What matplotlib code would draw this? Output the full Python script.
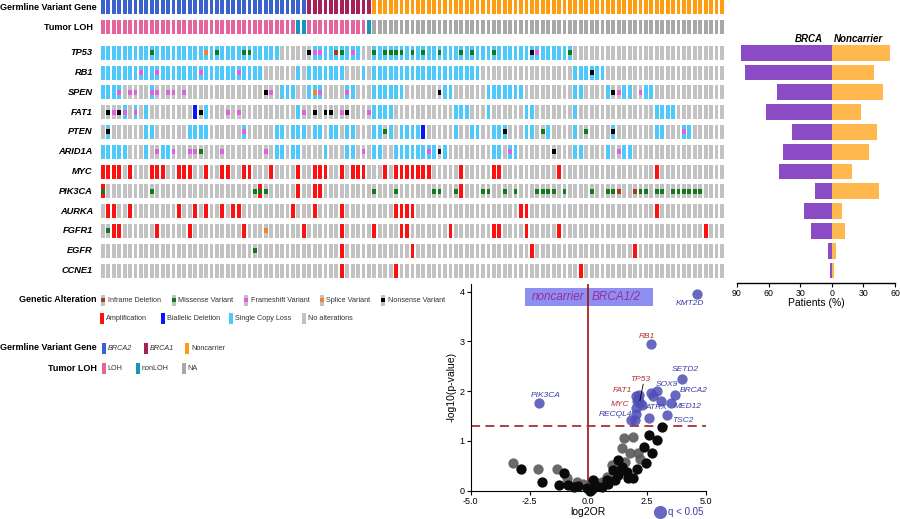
import numpy as np
import matplotlib.pyplot as plt
from matplotlib.patches import Rectangle

plt.rcParams['font.family'] = ['Liberation Sans', 'DejaVu Sans']

W, H = 900, 519

genes = ['TP53', 'RB1', 'SPEN', 'FAT1', 'PTEN', 'ARID1A', 'MYC', 'PIK3CA',
         'AURKA', 'FGFR1', 'EGFR', 'CCNE1']

# one character per patient (115), written in groups of ten
germline = ("2222222222 2222222222 2222222222 2222222211 1111111111 NNNNNNNNNN "
            "NNNNNNNNNN NNNNNNNNNN NNNNNNNNNN NNNNNNNNNN NNNNNNNNNN NNNNN")
tumor_loh = ("LLLLLLLLLL LLLLLLLLLL LLLLLLLLLL LLLLLLnnLL LLLLLLLLLn ---------- "
             "---------- ---------- ---------- ---------- ---------- -----")

# copy number: S single copy loss, A amplification, D biallelic deletion
cna_rows = [
    "SSSSSSSSSS SSSSSSSSSS SSSSSSSSSS SSS......S SSSSSSSS.. SSSSSSSSSS SSSSSSSSSS SSSSSSSSSS SSSSSSS... .......... .......... .....",
    "SSSSSSSSSS SSSSSSSSSS SSSSSSSSSS ......S.SS SSSSS...S. SSSSSSSSSS SSSSSSSSSS .......... .......SSS SSS....... .......... .....",
    "SSSS.....S .......... .......... ...SSS..SS S....SS... SSSSSS.... ...SS..... .SSSSSSS.. .......SS. ...S..SS.. SS........ .....",
    "....S.S.S. .......D.S .......... ......S... .......... SSSS...... .....SSS.. .S......SS .......S.. .......... ..SSSS.... .....",
    ".S......SS ......SSSS ......S... ..SS.SSS.S S.SS.SS... SS.S.SSSSD .....S..SS ..SSS...SS ..S....S.. ....S..... ..SS...SS. .....",
    "SSSSS...S. .SS....... .......... ..SS.SS... .S...SS... SS..SSSSSS SS.S...... ..SS.SS... .......SS. ...S..SS.. .......... .....",
    "AAAA.A...A AA..AAA..A ..AA..AA.. .A....A..A AA..A.AAA. ..A.AAAAAA A.....A... ..AA...... ....A..... .......... ..A....... .....",
    "A......... .......... .........A ......A..A A......... .......... ......A... .......... .......... .......... .......... .....",
    ".AA..A.... ....A..A.A ..A.AA.... .....A...A ....A..... ....AAAA.. .......... .......AA. .......... .......... ..A....... .....",
    "..AA...... A.....A... ......A... .......A.. ....A..... A....AA... ....A..... ..AA....A. ....A..... .......... .......... .A...",
    ".......... .......... .......... .......... ....A..... .......A.. .......... .........A .......... ........A. .......... .....",
    ".......... .......... .......... .......... ....A..... ....A..... .......... .......... ........A. .......... .......... .....",
]

# mutations: m missense, f frameshift, s splice, n nonsense, i inframe deletion
mut_rows = [
    ".........m .........s .m....mm.. ........nf f..im.f... m.mmmm.m.m ..m...m.m. ..m......n f.....m... .......... .......... .....",
    ".......f.. f.......f. .....f.... .......... .......... .......... .......... .......... .......... n......... .......... .....",
    "...f.ff..f f.ff.f.... .......... nf.......s f....f.... .......... ..n....... .......... .......... ....nf...f .......... .....",
    ".nfnf.f... ........n. ...f.f.... .......f.n .nn.fn...f .......... .......... .......... .......... .......... .......... .....",
    ".n........ .......... ......f... .......... .......... ..m....... .......... ....n..... .m.......m ....n..... .......f.. .....",
    ".......... f..f..ffm. ..f....... f......... ........f. .......... f.n....... .....f.... ...n...... .....f.... .......... .....",
    ".......... .......... .......... .......... .......... .......... .......... .......... .......... .......... .......... .....",
    "m........m .......... ........mm m......... .......... m...m..... .mm..m.... mm..m.m... mmmm.m.... m..mmi..im m.mm.mmmmm m....",
    ".......... .......... .......... .......... .......... .......... .......... .......... .......... .......... .......... .....",
    ".m........ .......... .......... s......... .......... .......... .......... .......... .......... .......... .......... .....",
    ".......... .......... ........m. .......... .......... .......... .......... .......... .......... .......... .......... .....",
    ".......... .......... .......... .......... .......... .......... .......... .......... .......... .......... .......... .....",
]

# altered patients (%) per gene
brca_pct = [86, 82, 52, 62, 38, 46, 50, 16, 26, 20, 4, 2]
noncarrier_pct = [55, 40, 49, 28, 43, 35, 19, 45, 10, 13, 4, 2.5]

# volcano: significant genes (q < 0.05)
sig_x = [4.63, 2.66, 3.99, -2.08, 2.90, 2.67, 2.74, 3.69, 3.07, 3.50, 3.33, 2.59,
         2.01, 2.15, 2.09, 2.27, 2.21, 2.01, 2.06, 2.01, 1.81, 1.98]
sig_y = [3.96, 2.95, 2.25, 1.77, 2.01, 1.97, 1.91, 1.92, 1.81, 1.77, 1.52, 1.47,
         1.91, 1.92, 1.84, 1.72, 1.76, 1.66, 1.80, 1.55, 1.42, 1.42]
grey_x = [-3.21, -2.12, -1.34, -0.92, 1.53, 1.88, 1.44, 1.77, 2.12, 2.19, 1.56, 0.99,
          1.20, 0.78, 0.57, 0.35, -0.21, -0.49]
grey_y = [0.55, 0.44, 0.44, 0.25, 1.06, 1.07, 0.85, 0.75, 0.76, 0.64, 0.58, 0.52,
          0.35, 0.28, 0.18, 0.16, 0.13, 0.18]
black_x = [-2.87, -1.98, -1.03, -1.24, -0.85, -0.42, -0.07, 0.07, 0.31, 0.57, 0.85, 1.13,
           1.27, 1.42, 1.63, 1.70, 1.88, 2.05, 2.45, 2.38, 2.58, 2.69, 2.90, 3.11,
           1.27, 1.06, 0.78, 0.21, -0.60, 0.15]
black_y = [0.44, 0.18, 0.36, 0.11, 0.11, 0.09, 0.05, 0.00, 0.09, 0.07, 0.13, 0.21,
           0.32, 0.48, 0.38, 0.25, 0.25, 0.43, 0.55, 0.88, 1.12, 0.76, 1.02, 1.29,
           0.62, 0.42, 0.21, 0.21, 0.08, 0.03]
blue_labels = ['KMT2D', 'SETD2', 'SOX9', 'BRCA2', 'MED12', 'TSC2', 'ATRX', 'RECQL4', 'PIK3CA']
blue_lx = [4.31, 4.12, 3.33, 4.46, 4.20, 4.00, 2.87, 1.16, -1.81]
blue_ly = [3.76, 2.44, 2.14, 2.01, 1.69, 1.42, 1.67, 1.54, 1.92]
red_labels = ['RB1', 'TP53', 'FAT1', 'MYC']
red_lx = [2.48, 2.22, 1.44, 1.35]
red_ly = [3.09, 2.24, 2.02, 1.74]

germ_colors = {'2': '#3a63d1', '1': '#a8205a', 'N': '#ff9c10'}
loh_colors = {'L': '#e6649e', 'n': '#1596bf', '-': '#a8a8a8'}
cna_colors = {'S': '#4dc9fb', 'A': '#ff1010', 'D': '#0a14ff', '.': '#c2c2c2'}
mut_colors = {'m': '#137a1a', 'f': '#e060e0', 's': '#f5822a', 'n': '#000000', 'i': '#a0401a'}


def seq(s):
    s = s.replace(' ', '')
    assert len(s) == 115, len(s)
    return list(s)


def box(x0, y0, x1, y1):
    return [x0 / W, 1 - y1 / H, (x1 - x0) / W, (y1 - y0) / H]


fig = plt.figure(figsize=(9, 5.19), dpi=100)

# overlay used for the alteration legends
lg = fig.add_axes([0, 0, 1, 1])
lg.set_xlim(0, W)
lg.set_ylim(H, 0)
lg.axis('off')

# ---------------- oncoprint ----------------
ax = fig.add_axes(box(100, 0, 724.5, 280))
pitch = 19.8
ax.set_xlim(-0.53, 114.47)
ax.set_ylim((280 - 52.7) / pitch, -52.7 / pitch)
ax.axis('off')
cols = np.arange(115)
th = 14 / pitch
y_germ = (7 - 52.7) / pitch
y_loh = (27.3 - 52.7) / pitch

ax.bar(cols, th, bottom=y_germ - th / 2, width=0.7,
       color=[germ_colors[c] for c in seq(germline)])
ax.bar(cols, th, bottom=y_loh - th / 2, width=0.7,
       color=[loh_colors[c] for c in seq(tumor_loh)])
for i, (cr, mr) in enumerate(zip(cna_rows, mut_rows)):
    ax.bar(cols, th, bottom=i - th / 2, width=0.7,
           color=[cna_colors[c] for c in seq(cr)])
    mr = seq(mr)
    idx = [k for k, c in enumerate(mr) if c != '.']
    if idx:
        ax.bar(idx, 0.26, bottom=i - 0.13, width=0.7,
               color=[mut_colors[mr[k]] for k in idx])
    ax.text(-1.85, i, genes[i], ha='right', va='center', fontsize=6.7,
            fontweight='bold', fontstyle='italic')
ax.text(-1.1, y_germ, 'Germline Variant Gene', ha='right', va='center',
        fontsize=6.5, fontweight='bold')
ax.text(-1.85, y_loh, 'Tumor LOH', ha='right', va='center',
        fontsize=6.5, fontweight='bold')

# ---------------- legends ----------------
def tile(x, y, color, mut=None):
    lg.add_patch(Rectangle((x, y - 5.5), 4, 11, color=color if mut is None else '#c2c2c2', lw=0))
    if mut is not None:
        lg.add_patch(Rectangle((x, y - 2), 4, 4, color=mut, lw=0))


def label(x, y, s, italic=False):
    lg.text(x, y, s, ha='left', va='center', fontsize=5.2, color='#333333',
            fontstyle='italic' if italic else 'normal')


def title(y, s):
    lg.text(96.5, y, s, ha='right', va='center', fontsize=6.5, fontweight='bold')


title(299, 'Genetic Alteration')
for x, key, name in [(101, 'i', 'Inframe Deletion'), (171.7, 'm', 'Missense Variant'),
                     (244.3, 'f', 'Frameshift Variant'), (320, 's', 'Splice Variant'),
                     (381, 'n', 'Nonsense Variant')]:
    tile(x, 300, None, mut_colors[key])
    label(x + 6.5, 300, name)
for x, key, name in [(100, 'A', 'Amplification'), (161, 'D', 'Biallelic Deletion'),
                     (229.3, 'S', 'Single Copy Loss'), (301.7, '.', 'No alterations')]:
    tile(x, 318.5, cna_colors[key])
    label(x + 6, 318.5, name)

title(348, 'Germline Variant Gene')
for x, key, name, it in [(101.7, '2', 'BRCA2', True), (144, '1', 'BRCA1', True),
                         (185, 'N', 'Noncarrier', False)]:
    tile(x, 348, germ_colors[key])
    label(x + 6, 348, name, it)

title(368.5, 'Tumor LOH')
for x, key, name in [(101.7, 'L', 'LOH'), (136, 'n', 'nonLOH'), (181.7, '-', 'NA')]:
    tile(x, 368.5, loh_colors[key])
    label(x + 5.5, 368.5, name)

# ---------------- patients bar chart ----------------
axb = fig.add_axes(box(737, 35, 895, 283.3))
rows = np.arange(len(genes))
axb.barh(rows, -np.array(brca_pct), height=0.79, color='#8a4bc5')
axb.barh(rows, noncarrier_pct, height=0.79, color='#ffb84d')
axb.set_xlim(-90, 60)
axb.set_ylim((283.3 - 52.7) / pitch, (35 - 52.7) / pitch)
for s in ['top', 'right', 'left']:
    axb.spines[s].set_visible(False)
axb.spines['bottom'].set_linewidth(1.0)
axb.set_yticks([])
axb.set_xticks([-90, -60, -30, 0, 30, 60])
axb.set_xticklabels(['90', '60', '30', '0', '30', '60'], fontsize=6.3)
axb.tick_params(axis='x', length=3, pad=1)
axb.set_xlabel('Patients (%)', fontsize=7.5, labelpad=0)
axb.text(-8.5, -0.69, 'BRCA', ha='right', va='center', fontsize=7,
         fontweight='bold', fontstyle='italic')
axb.text(2, -0.69, 'Noncarrier', ha='left', va='center', fontsize=7,
         fontweight='bold', fontstyle='italic')

# ---------------- volcano ----------------
axv = fig.add_axes(box(470.7, 284, 706, 490.7))
axv.set_xlim(-5, 5)
axv.set_ylim(0, (490.7 - 284) / 49.75)
axv.add_patch(Rectangle((-2.69, 3.71), 5.42, 0.37, color='#8f8ff2', lw=0, zorder=1))
axv.text(-0.15, 3.9, 'noncarrier', ha='right', va='center', fontsize=8.5,
         fontstyle='italic', color='#9b2c9b', zorder=3)
axv.text(0.15, 3.9, 'BRCA1/2', ha='left', va='center', fontsize=8.5,
         fontstyle='italic', color='#9b2c9b', zorder=3)
axv.axvline(0, color='#a01010', lw=1.2, zorder=2)
axv.axhline(1.3, color='#a83232', lw=1.3, dashes=(5, 3), zorder=2)
axv.scatter(grey_x, grey_y, s=55, color='#5a5a5a', alpha=0.9, lw=0, zorder=4, clip_on=False)
axv.scatter(black_x, black_y, s=55, color='#0a0a0a', lw=0, zorder=5, clip_on=False)
axv.scatter(sig_x, sig_y, s=55, color='#4e4eb6', alpha=0.85, lw=0, zorder=6, clip_on=False)
for s, x, y in zip(blue_labels, blue_lx, blue_ly):
    axv.text(x, y, s, ha='center', va='center', fontsize=6, fontstyle='italic',
             color='#3a3aa8', zorder=7)
for s, x, y in zip(red_labels, red_lx, red_ly):
    axv.text(x, y, s, ha='center', va='center', fontsize=6, fontstyle='italic',
             color='#b03030', zorder=7)
axv.plot([2.33, 2.19], [2.14, 1.81], color='black', lw=0.6, zorder=7)
for s in ['top', 'right']:
    axv.spines[s].set_visible(False)
axv.set_xticks([-5, -2.5, 0, 2.5, 5])
axv.set_xticklabels(['-5.0', '-2.5', '0.0', '2.5', '5.0'], fontsize=6.5)
axv.set_yticks([0, 1, 2, 3, 4])
axv.set_yticklabels(['0', '1', '2', '3', '4'], fontsize=6.5)
axv.tick_params(length=3, pad=1.5)
axv.set_xlabel('log2OR', fontsize=7.5, labelpad=1)
axv.set_ylabel('-log10(p-value)', fontsize=7.5, labelpad=2)

lg.scatter([660], [512.3], s=90, color='#4e4eb6', alpha=0.85, lw=0)
lg.text(668, 512.3, 'q < 0.05', ha='left', va='center', fontsize=7, color='#3a3aa8')

fig.savefig('out.png', dpi=100)
